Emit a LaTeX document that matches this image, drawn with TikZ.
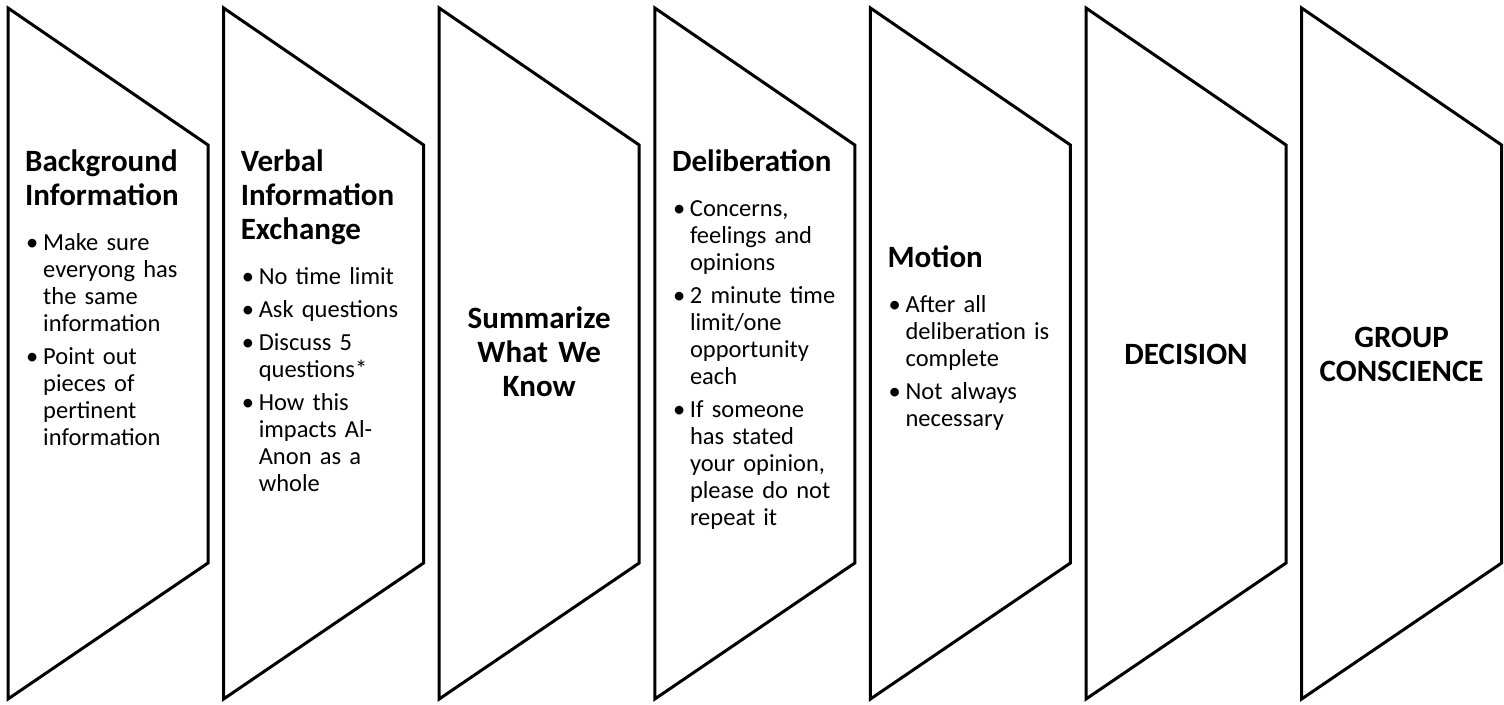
\documentclass[tikz,border=0pt]{standalone}
\usepackage{fontspec}
\setmainfont{Carlito}
\newcommand{\ttlsize}{\fontsize{31}{34}\selectfont\bfseries}
\newcommand{\txtsize}{\fontsize{24.5}{27}\selectfont}
\newcommand{\itm}[1]{\par\vspace{6pt}\hangindent=18pt\hangafter=1\noindent\makebox[18pt][l]{\hspace{1pt}\textbullet}#1\par}

\begin{document}
\begin{tikzpicture}[x=1pt,y=-1pt,
        stage/.style={line width=3pt, line join=miter},
        steptxt/.style={anchor=base west, inner sep=0pt, text width=185pt, align=left, font=\txtsize},
        midtxt/.style={anchor=base, inner sep=0pt, text width=190pt, align=center, font=\ttlsize}]
        \useasboundingbox (0,0) rectangle (1504,704);

        \draw[stage] (8,8) -- (208,145) -- (208,563) -- (8,699) -- cycle;
        \draw[stage] (223.6,8) -- (423.6,145) -- (423.6,563) -- (223.6,699) -- cycle;
        \draw[stage] (439.2,8) -- (639.2,145) -- (639.2,563) -- (439.2,699) -- cycle;
        \draw[stage] (654.8,8) -- (854.8,145) -- (854.8,563) -- (654.8,699) -- cycle;
        \draw[stage] (870.4,8) -- (1070.4,145) -- (1070.4,563) -- (870.4,699) -- cycle;
        \draw[stage] (1086,8) -- (1286,145) -- (1286,563) -- (1086,699) -- cycle;
        \draw[stage] (1301.6,8) -- (1501.6,145) -- (1501.6,563) -- (1301.6,699) -- cycle;

        \node[steptxt] (background) at (25,171) {{\ttlsize Background\newline Information\par}\vspace{12pt}%
            \itm{Make sure\newline everyong has\newline the same\newline information}%
            \itm{Point out\newline pieces of\newline pertinent\newline information}};
        \node[steptxt] (verbal) at (240.6,171) {{\ttlsize Verbal\newline Information\newline Exchange\par}\vspace{12pt}%
            \itm{No time limit}%
            \itm{Ask questions}%
            \itm{Discuss 5\newline questions*}%
            \itm{How this\newline impacts Al-\newline Anon as a\newline whole}};
        \node[midtxt] (summary) at (539.2,328) {Summarize\\What We\\Know};
        \node[steptxt] (deliberation) at (671.8,171) {{\ttlsize Deliberation\par}\vspace{12pt}%
            \itm{Concerns,\newline feelings and\newline opinions}%
            \itm{2 minute time\newline limit/one\newline opportunity\newline each}%
            \itm{If someone\newline has stated\newline your opinion,\newline please do not\newline repeat it}};
        \node[steptxt] (motion) at (887.4,267) {{\ttlsize Motion\par}\vspace{12pt}%
            \itm{After all\newline deliberation is\newline complete}%
            \itm{Not always\newline necessary}};
        \node[midtxt] (decision) at (1186,364) {DECISION};
        \node[midtxt] (conscience) at (1401.6,347) {GROUP\\CONSCIENCE};
    \end{tikzpicture}
\end{document}
